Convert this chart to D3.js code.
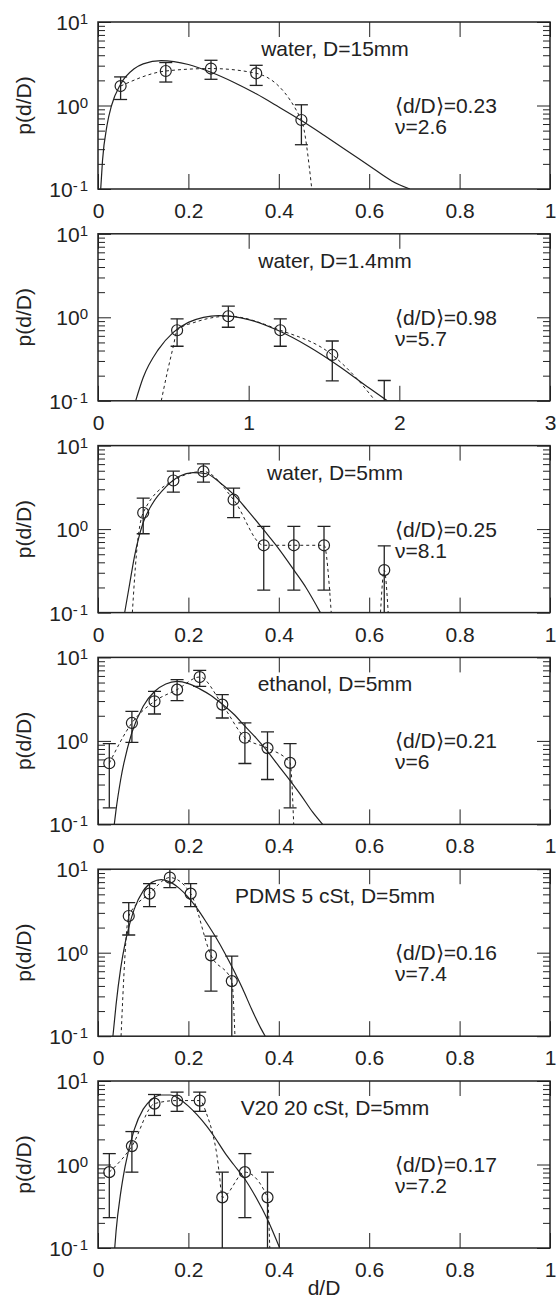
<!DOCTYPE html>
<html>
<head>
<meta charset="utf-8">
<script src="https://cdn.jsdelivr.net/npm/d3@7"></script>
<style>
  body { margin: 0; background: #fff; }
  svg text { font-family: "Liberation Sans", Arial, Helvetica, sans-serif; fill: #222; }
</style>
</head>
<body>
<div id="chart"></div>
<script>
// panel texts
const panelTitles = ["water, D=15mm", "water, D=1.4mm", "water, D=5mm", "ethanol, D=5mm", "PDMS 5 cSt, D=5mm", "V20 20 cSt, D=5mm"];
const panelMeans = ["0.23", "0.98", "0.25", "0.21", "0.16", "0.17"];
const panelNus = ["2.6", "5.7", "8.1", "6", "7.4", "7.2"];
const panelXMax = [1, 3, 1, 1, 1, 1];

// ticks
const xTicksUnit = [0, 0.2, 0.4, 0.6, 0.8, 1];
const xTicksWide = [0, 1, 2, 3];
const yMajorTicks = [0.1, 1, 10];
const yExponents = ["-1", "0", "1"];
const yMinorTicks = [0.2, 0.3, 0.4, 0.5, 0.6, 0.7, 0.8, 0.9, 2, 3, 4, 5, 6, 7, 8, 9];

// measured points with error bars
const pointX = [
  [0.05, 0.15, 0.25, 0.35, 0.45],
  [0.525, 0.865, 1.21, 1.555, 1.9],
  [0.1, 0.1667, 0.2333, 0.3, 0.3667, 0.4333, 0.5, 0.6333],
  [0.025, 0.075, 0.125, 0.175, 0.225, 0.275, 0.325, 0.375, 0.425],
  [0.068, 0.114, 0.159, 0.205, 0.25, 0.296],
  [0.025, 0.075, 0.125, 0.175, 0.225, 0.275, 0.325, 0.375]
];
const pointY = [
  [1.71, 2.59, 2.77, 2.43, 0.67],
  [0.70, 1.03, 0.70, 0.354, 0.07],
  [1.57, 3.82, 4.90, 2.25, 0.64, 0.64, 0.64, 0.323],
  [0.54, 1.64, 2.98, 4.11, 5.82, 2.72, 1.09, 0.82, 0.546],
  [2.75, 5.1, 7.94, 5.1, 0.93, 0.457],
  [0.81, 1.66, 5.36, 5.83, 5.83, 0.404, 0.81, 0.404]
];
const errHigh = [
  [2.2, 3.27, 3.48, 3.03, 1.02],
  [0.96, 1.36, 0.96, 0.52, 0.175],
  [2.35, 4.94, 6.04, 3.10, 1.08, 1.08, 1.08, 0.63],
  [0.93, 2.26, 3.92, 5.41, 7.0, 3.58, 1.64, 1.28, 0.93],
  [3.98, 6.73, 10, 6.73, 1.58, 0.91],
  [1.35, 2.48, 6.89, 7.36, 7.36, 0.81, 1.35, 0.81]
];
const errLow = [
  [1.18, 1.91, 2.06, 1.74, 0.339],
  [0.45, 0.76, 0.45, 0.173, 0.02],
  [0.88, 2.77, 3.65, 1.37, 0.186, 0.186, 0.186, 0.02],
  [0.158, 0.96, 2.10, 3.03, 4.50, 1.88, 0.536, 0.345, 0.158],
  [1.63, 3.56, 6.03, 3.56, 0.347, 0.02],
  [0.231, 0.81, 3.87, 4.33, 4.33, 0.02, 0.231, 0.02]
];

// dashed guide through the points (null = gap)
const dashX = [
  [0.05, 0.15, 0.25, 0.35, 0.45, 0.473],
  [0.42, 0.46, 0.5, 0.525, 0.65, 0.865, 1.21, 1.555, 1.7, 1.84],
  [0.076, 0.085, 0.1, 0.1667, 0.2333, 0.3, 0.3667, 0.4333, 0.5, 0.516, 0.57, 0.625, 0.6333, 0.642],
  [0.025, 0.075, 0.125, 0.175, 0.225, 0.275, 0.325, 0.375, 0.425, 0.433],
  [0.051, 0.068, 0.114, 0.159, 0.205, 0.25, 0.296, 0.303],
  [0.025, 0.075, 0.125, 0.175, 0.225, 0.242, 0.254, 0.263, 0.268, 0.275, 0.325, 0.375, 0.38]
];
const dashY = [
  [1.71, 2.59, 2.77, 2.43, 0.67, 0.1],
  [0.1, 0.22, 0.45, 0.70, 0.88, 1.03, 0.70, 0.354, 0.2, 0.1],
  [0.1, 0.5, 1.57, 3.82, 4.90, 2.25, 0.64, 0.64, 0.64, 0.1, null, 0.1, 0.323, 0.1],
  [0.54, 1.64, 2.98, 4.11, 5.82, 2.72, 1.09, 0.82, 0.546, 0.1],
  [0.1, 2.75, 5.1, 7.94, 5.1, 0.93, 0.457, 0.1],
  [0.81, 1.66, 5.36, 5.83, 5.83, 3.8, 2.3, 1.3, 0.8, 0.404, 0.81, 0.404, 0.1]
];

// solid fitted curve
const solidX = [
  [0.006, 0.01, 0.02, 0.03, 0.05, 0.08, 0.1, 0.14, 0.2, 0.25, 0.3, 0.35, 0.4, 0.45, 0.5, 0.55, 0.6, 0.65, 0.69],
  [0.25, 0.3, 0.4, 0.5, 0.6, 0.7, 0.8, 0.9, 1.0, 1.2, 1.4, 1.6, 1.8, 1.92],
  [0.059, 0.07, 0.08, 0.1, 0.12, 0.15, 0.18, 0.21, 0.24, 0.27, 0.3, 0.33, 0.367, 0.4, 0.434, 0.46, 0.492],
  [0.036, 0.04, 0.05, 0.075, 0.1, 0.125, 0.15, 0.175, 0.2, 0.225, 0.25, 0.275, 0.3, 0.325, 0.35, 0.375, 0.4, 0.425, 0.45, 0.475, 0.497],
  [0.033, 0.04, 0.05, 0.06, 0.07, 0.08, 0.1, 0.12, 0.14, 0.16, 0.18, 0.2, 0.22, 0.24, 0.26, 0.28, 0.3, 0.32, 0.34, 0.36, 0.37],
  [0.037, 0.04, 0.05, 0.06, 0.08, 0.1, 0.12, 0.14, 0.16, 0.18, 0.2, 0.22, 0.24, 0.26, 0.28, 0.3, 0.324, 0.35, 0.375, 0.402]
];
const solidY = [
  [0.1, 0.22, 0.58, 1.0, 1.8, 2.75, 3.15, 3.45, 3.1, 2.5, 1.9, 1.38, 0.96, 0.66, 0.44, 0.29, 0.19, 0.125, 0.1],
  [0.1, 0.19, 0.41, 0.66, 0.87, 1.0, 1.05, 1.02, 0.94, 0.69, 0.445, 0.26, 0.142, 0.1],
  [0.1, 0.22, 0.45, 1.2, 2.0, 3.2, 4.3, 4.75, 4.6, 3.6, 2.6, 1.7, 0.97, 0.58, 0.32, 0.2, 0.1],
  [0.1, 0.15, 0.34, 1.26, 2.6, 3.9, 4.8, 5.15, 4.85, 4.2, 3.5, 2.75, 2.1, 1.5, 1.08, 0.75, 0.5, 0.335, 0.22, 0.14, 0.1],
  [0.1, 0.24, 0.64, 1.3, 2.2, 3.3, 5.5, 7.0, 7.5, 7.0, 5.9, 4.6, 3.35, 2.3, 1.55, 1.0, 0.62, 0.37, 0.21, 0.125, 0.1],
  [0.1, 0.16, 0.45, 0.95, 2.6, 4.6, 6.1, 6.8, 6.8, 6.1, 5.0, 3.9, 2.9, 2.05, 1.4, 1.0, 0.68, 0.4, 0.22, 0.1]
];

const width = 556, height = 1299;
const plotLeft = 98, plotRight = 550;
const panelTop0 = 22, panelStep = 211.8, panelH = 167;
const w = plotRight - plotLeft;
const ink = "#222";

const svg = d3.select("#chart")
  .append("svg")
  .attr("width", width)
  .attr("height", height);

panelTitles.forEach((title, i) => {
  const top = panelTop0 + i * panelStep;
  const g = svg.append("g").attr("transform", `translate(${plotLeft},${top})`);

  const x = d3.scaleLinear().domain([0, panelXMax[i]]).range([0, w]);
  const y = d3.scaleLog().domain([0.1, 10]).range([panelH, 0]);
  const xTicks = panelXMax[i] === 3 ? xTicksWide : xTicksUnit;

  g.append("clipPath").attr("id", "clip" + i)
    .append("rect").attr("width", w).attr("height", panelH);

  // x ticks bottom (with labels) and top
  const xb = g.append("g")
    .attr("transform", `translate(0,${panelH})`)
    .call(d3.axisBottom(x).tickValues(xTicks).tickSize(-15).tickPadding(14).tickFormat(d => d));
  xb.selectAll("text").attr("font-size", 21).attr("font-family", "Liberation Sans, Arial, sans-serif").style("fill", ink);
  g.append("g").call(d3.axisTop(x).tickValues(xTicks).tickSize(-15).tickFormat(""));

  // y ticks left and right, major + minor
  g.append("g").call(d3.axisLeft(y).tickValues(yMajorTicks).tickSize(-13).tickFormat(""));
  g.append("g").call(d3.axisLeft(y).tickValues(yMinorTicks).tickSize(-7).tickFormat(""));
  g.append("g").attr("transform", `translate(${w},0)`)
    .call(d3.axisRight(y).tickValues(yMajorTicks).tickSize(-13).tickFormat(""));
  g.append("g").attr("transform", `translate(${w},0)`)
    .call(d3.axisRight(y).tickValues(yMinorTicks).tickSize(-7).tickFormat(""));

  g.selectAll(".domain").remove();
  g.selectAll(".tick line").attr("stroke", ink).attr("stroke-width", 1);

  // y tick labels with exponents
  yMajorTicks.forEach((v, k) => {
    const t = g.append("text")
      .attr("x", -10)
      .attr("y", y(v) + 8)
      .attr("text-anchor", "end")
      .attr("font-size", 21);
    t.append("tspan").text("10");
    if (yExponents[k] === "-1") {
      t.append("tspan").attr("font-size", 15).attr("dy", -6).text("-");
      t.append("tspan").attr("font-size", 15).attr("dx", 2).text("1");
    } else {
      t.append("tspan").attr("font-size", 15).attr("dy", -6).text(yExponents[k]);
    }
  });

  // y label
  svg.append("text")
    .attr("transform", `translate(31,${top + panelH / 2}) rotate(-90)`)
    .attr("text-anchor", "middle")
    .attr("font-size", 21)
    .text("p(d/D)");

  const plot = g.append("g").attr("clip-path", `url(#clip${i})`);

  // solid curve
  const solid = solidX[i].map((d, k) => [d, solidY[i][k]]);
  const line = d3.line()
    .defined(d => d[1] != null)
    .x(d => x(d[0]))
    .y(d => y(d[1]))
    .curve(d3.curveMonotoneX);
  plot.append("path")
    .datum(solid)
    .attr("d", line)
    .attr("fill", "none")
    .attr("stroke", ink)
    .attr("stroke-width", 1.2);

  // dashed curve
  const dashed = dashX[i].map((d, k) => [d, dashY[i][k]]);
  plot.append("path")
    .datum(dashed)
    .attr("d", line)
    .attr("fill", "none")
    .attr("stroke", ink)
    .attr("stroke-width", 1)
    .attr("stroke-dasharray", "3,3");

  // error bars and circles
  const pts = pointX[i].map((d, k) => ({ x: d, y: pointY[i][k], lo: errLow[i][k], hi: errHigh[i][k] }));
  const bars = plot.selectAll(".bar").data(pts).join("g").attr("class", "bar");
  bars.append("line")
    .attr("x1", d => x(d.x)).attr("x2", d => x(d.x))
    .attr("y1", d => y(d.lo)).attr("y2", d => y(d.hi))
    .attr("stroke", ink).attr("stroke-width", 1.3);
  bars.append("line")
    .attr("x1", d => x(d.x) - 6.5).attr("x2", d => x(d.x) + 6.5)
    .attr("y1", d => y(d.hi)).attr("y2", d => y(d.hi))
    .attr("stroke", ink).attr("stroke-width", 1.3);
  bars.append("line")
    .attr("x1", d => x(d.x) - 6.5).attr("x2", d => x(d.x) + 6.5)
    .attr("y1", d => y(d.lo)).attr("y2", d => y(d.lo))
    .attr("stroke", ink).attr("stroke-width", 1.3);
  bars.append("circle")
    .attr("cx", d => x(d.x))
    .attr("cy", d => y(d.y))
    .attr("r", 5.5)
    .attr("fill", "none")
    .attr("stroke", ink)
    .attr("stroke-width", 1.2);

  // frame
  g.append("rect")
    .attr("width", w).attr("height", panelH)
    .attr("fill", "none")
    .attr("stroke", ink)
    .attr("stroke-width", 1.5);

  // annotations
  svg.append("text")
    .attr("x", 335).attr("y", top + 34)
    .attr("text-anchor", "middle")
    .attr("font-size", 21)
    .text(title);
  svg.append("text")
    .attr("x", 395).attr("y", top + 91)
    .attr("font-size", 21)
    .text(`\u27E8d/D\u27E9=${panelMeans[i]}`);
  svg.append("text")
    .attr("x", 395).attr("y", top + 112)
    .attr("font-size", 21)
    .text(`\u03BD=${panelNus[i]}`);
});

// x axis label
svg.append("text")
  .attr("x", (plotLeft + plotRight) / 2)
  .attr("y", 1295)
  .attr("text-anchor", "middle")
  .attr("font-size", 21)
  .text("d/D");
</script>
</body>
</html>
